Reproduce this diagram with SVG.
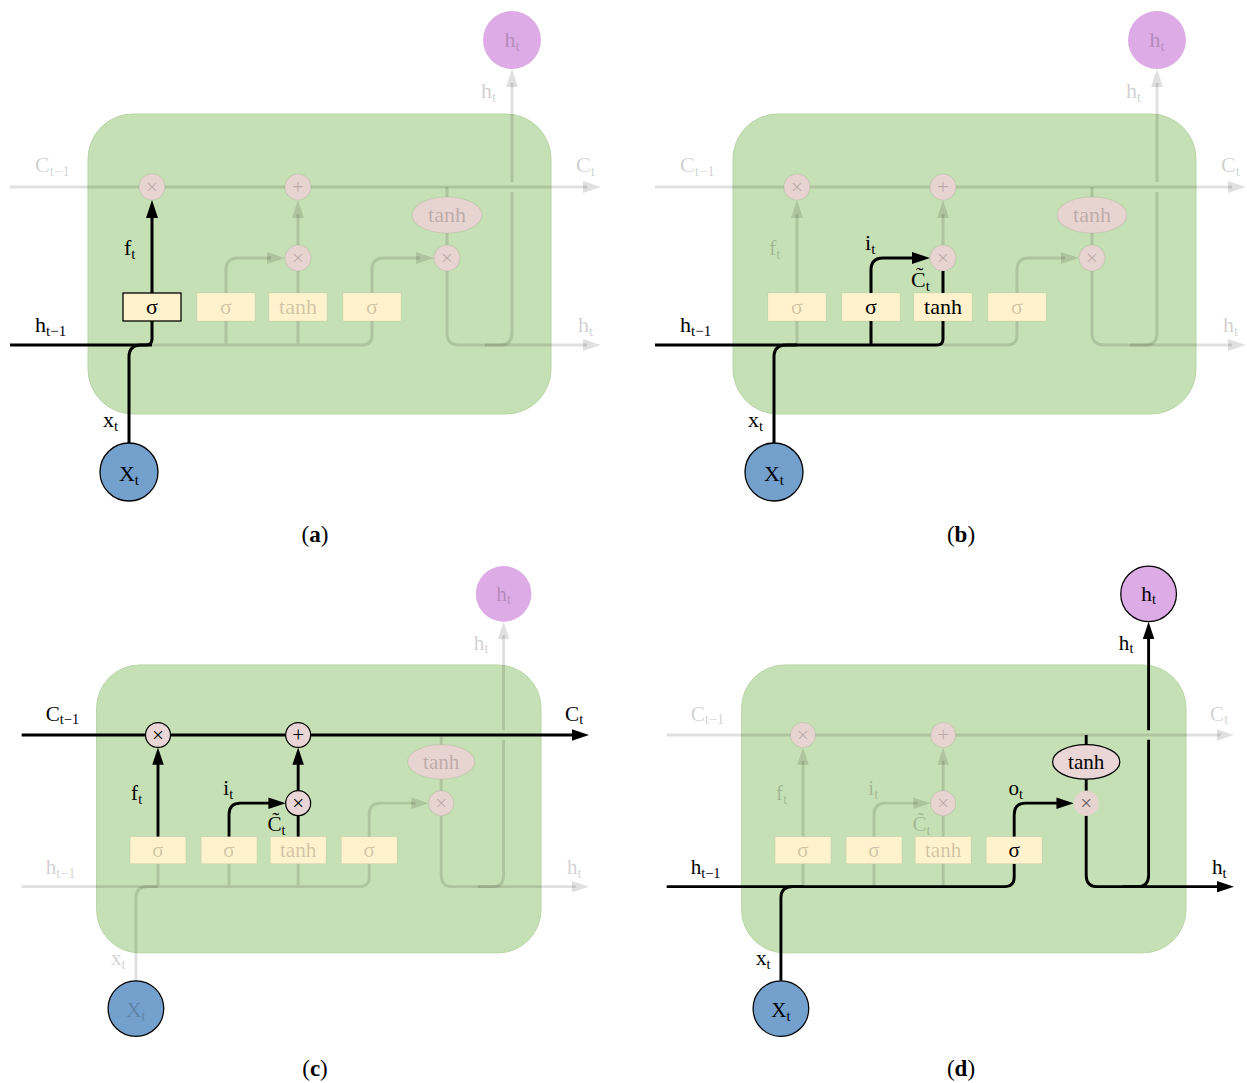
<svg xmlns="http://www.w3.org/2000/svg" width="1247" height="1083" viewBox="0 0 1247 1083">
<style>
.cell{fill:#c5e0b4;stroke:#b8d5a5;stroke-width:1}
.L{fill:none;stroke:#000;stroke-width:3}
.F{fill:none;stroke:#000;stroke-opacity:.12;stroke-width:3}
.op{fill:#ead6d6;stroke:#000;stroke-width:1.3}
.opf{fill:#e7d3d0;stroke:#000;stroke-opacity:.07;stroke-width:1.2}
.opn{fill:#e7d3d0;stroke:none}
.g{fill:#fff2cc;stroke:#000;stroke-opacity:.05;stroke-width:1}
.gs{fill:#fff2cc;stroke:#000;stroke-width:1.3}
.hc{fill:#ddabe6}
.hcs{fill:#ddabe6;stroke:#000;stroke-width:1.3}
.xc{fill:#73a0cd;stroke:#000;stroke-width:1.3}
.t{font-family:"Liberation Serif","Times New Roman",serif;font-size:22px;fill:#000}
.m{text-anchor:middle}
.f{fill-opacity:.2}
.s{font-size:15px}
.cap{font-family:"Liberation Serif","Times New Roman",serif;font-size:23px;fill:#000;text-anchor:middle}
</style>
<defs>
<marker id="ab" markerUnits="userSpaceOnUse" markerWidth="18" markerHeight="12" refX="4" refY="6" orient="auto"><path d="M0,0 L18,6 L0,12 z" fill="#000"/></marker>
<marker id="af" markerUnits="userSpaceOnUse" markerWidth="18" markerHeight="12" refX="4" refY="6" orient="auto"><path d="M0,0 L18,6 L0,12 z" fill="#000" fill-opacity=".12"/></marker>
</defs>

<!-- Panel A -->
<g id="panel-a">
<g id="a-cell"><rect class="cell" x="88" y="114" width="463" height="300" rx="45"/></g>
<g id="a-connectors">
<path class="F" d="M10,187 H587" marker-end="url(#af)"/>
<path class="F" d="M152,345 H362 Q372,345 372,335 V321 M226,345 V321 M298,345 V321"/>
<path class="F" d="M226,293 V270 Q226,258 238,258 H271" marker-end="url(#af)"/>
<path class="F" d="M298,293 V271"/>
<path class="F" d="M298,245 V214" marker-end="url(#af)"/>
<path class="F" d="M447,187 V197 M447,233 V245"/>
<path class="F" d="M372,293 V270 Q372,258 384,258 H420" marker-end="url(#af)"/>
<path class="F" d="M447,271 V333 Q447,345 459,345 H587" marker-end="url(#af)"/>
<path class="F" d="M485,345 H500 Q512,345 512,333 V192 M512,182 V83" marker-end="url(#af)"/>
<path class="L" d="M10,345 H146 Q152,345 152,339 V321"/>
<path class="L" d="M129,443 V357 Q129,345 141,345 H152"/>
<path class="L" d="M152,293 V214" marker-end="url(#ab)"/>
</g>
<g id="a-mulF"><circle class="opf" cx="152" cy="187" r="13"/><text class="t m f" x="152" y="194">×</text></g>
<g id="a-add"><circle class="opf" cx="298" cy="187" r="13"/><text class="t m f" x="298" y="194">+</text></g>
<g id="a-mulI"><circle class="opf" cx="298" cy="258" r="13"/><text class="t m f" x="298" y="265">×</text></g>
<g id="a-tanhC"><ellipse class="opf" cx="447" cy="215" rx="35" ry="18"/><text class="t m f" x="447" y="222">tanh</text></g>
<g id="a-mulO"><circle class="opf" cx="447" cy="258" r="13"/><text class="t m f" x="447" y="265">×</text></g>
<g id="a-sigF"><rect class="gs" x="123" y="293" width="58" height="28"/><text class="t m" x="152" y="314">σ</text></g>
<g id="a-sigI"><rect class="g" x="197" y="293" width="58" height="28"/><text class="t m f" x="226" y="314">σ</text></g>
<g id="a-tanhG"><rect class="g" x="269" y="293" width="58" height="28"/><text class="t m f" x="298" y="314">tanh</text></g>
<g id="a-sigO"><rect class="g" x="343" y="293" width="58" height="28"/><text class="t m f" x="372" y="314">σ</text></g>
<g id="a-ht"><circle class="hc" cx="512" cy="40" r="29"/><text class="t m f" x="512" y="47">h<tspan class="s" dy="4">t</tspan></text></g>
<g id="a-xt"><circle class="xc" cx="129" cy="472" r="29"/><text class="t m" x="129" y="481">X<tspan class="s" dy="4">t</tspan></text></g>
<g id="a-labels">
<text class="t f" x="35" y="172">C<tspan class="s" dy="4">t−1</tspan></text>
<text class="t f" x="576" y="172">C<tspan class="s" dy="4">t</tspan></text>
<text class="t" x="35" y="332">h<tspan class="s" dy="4">t−1</tspan></text>
<text class="t f" x="578" y="332">h<tspan class="s" dy="4">t</tspan></text>
<text class="t f" x="481" y="98">h<tspan class="s" dy="4">t</tspan></text>
<text class="t" x="124" y="255">f<tspan class="s" dy="4">t</tspan></text>
<text class="t" x="103" y="427">x<tspan class="s" dy="4">t</tspan></text>
</g>
</g>

<!-- Panel B -->
<g id="panel-b" transform="translate(645,0)">
<g id="b-cell"><rect class="cell" x="88" y="114" width="463" height="300" rx="45"/></g>
<g id="b-connectors">
<path class="F" d="M10,187 H587" marker-end="url(#af)"/>
<path class="F" d="M152,345 V321 M298,345 H362 Q372,345 372,335 V321"/>
<path class="F" d="M152,293 V214" marker-end="url(#af)"/>
<path class="F" d="M298,245 V214" marker-end="url(#af)"/>
<path class="F" d="M447,187 V197 M447,233 V245"/>
<path class="F" d="M372,293 V270 Q372,258 384,258 H420" marker-end="url(#af)"/>
<path class="F" d="M447,271 V333 Q447,345 459,345 H587" marker-end="url(#af)"/>
<path class="F" d="M485,345 H500 Q512,345 512,333 V192 M512,182 V83" marker-end="url(#af)"/>
<path class="L" d="M10,345 H292 Q298,345 298,339 V321 M226,345 V321"/>
<path class="L" d="M129,443 V357 Q129,345 141,345 H152"/>
<path class="L" d="M226,293 V270 Q226,258 238,258 H271" marker-end="url(#ab)"/>
<path class="L" d="M298,293 V271"/>
</g>
<g id="b-mulF"><circle class="opf" cx="152" cy="187" r="13"/><text class="t m f" x="152" y="194">×</text></g>
<g id="b-add"><circle class="opf" cx="298" cy="187" r="13"/><text class="t m f" x="298" y="194">+</text></g>
<g id="b-mulI"><circle class="opf" cx="298" cy="258" r="13"/><text class="t m f" x="298" y="265">×</text></g>
<g id="b-tanhC"><ellipse class="opf" cx="447" cy="215" rx="35" ry="18"/><text class="t m f" x="447" y="222">tanh</text></g>
<g id="b-mulO"><circle class="opf" cx="447" cy="258" r="13"/><text class="t m f" x="447" y="265">×</text></g>
<g id="b-sigF"><rect class="g" x="123" y="293" width="58" height="28"/><text class="t m f" x="152" y="314">σ</text></g>
<g id="b-sigI"><rect class="g" x="197" y="293" width="58" height="28"/><text class="t m" x="226" y="314">σ</text></g>
<g id="b-tanhG"><rect class="g" x="269" y="293" width="58" height="28"/><text class="t m" x="298" y="314">tanh</text></g>
<g id="b-sigO"><rect class="g" x="343" y="293" width="58" height="28"/><text class="t m f" x="372" y="314">σ</text></g>
<g id="b-ht"><circle class="hc" cx="512" cy="40" r="29"/><text class="t m f" x="512" y="47">h<tspan class="s" dy="4">t</tspan></text></g>
<g id="b-xt"><circle class="xc" cx="129" cy="472" r="29"/><text class="t m" x="129" y="481">X<tspan class="s" dy="4">t</tspan></text></g>
<g id="b-labels">
<text class="t f" x="35" y="172">C<tspan class="s" dy="4">t−1</tspan></text>
<text class="t f" x="576" y="172">C<tspan class="s" dy="4">t</tspan></text>
<text class="t" x="35" y="332">h<tspan class="s" dy="4">t−1</tspan></text>
<text class="t f" x="578" y="332">h<tspan class="s" dy="4">t</tspan></text>
<text class="t f" x="481" y="98">h<tspan class="s" dy="4">t</tspan></text>
<text class="t f" x="124" y="255">f<tspan class="s" dy="4">t</tspan></text>
<text class="t" x="220" y="250">i<tspan class="s" dy="4">t</tspan></text>
<text class="t" x="266" y="287">C̃<tspan class="s" dy="4">t</tspan></text>
<text class="t" x="103" y="427">x<tspan class="s" dy="4">t</tspan></text>
</g>
</g>

<!-- Panel C -->
<g id="panel-c" transform="translate(12.08,555.48) scale(0.96)">
<g id="c-cell"><rect class="cell" x="88" y="114" width="463" height="300" rx="45"/></g>
<g id="c-connectors">
<path class="F" d="M10,345 H362 Q372,345 372,335 V321 M152,345 V321 M226,345 V321 M298,345 V321"/>
<path class="F" d="M129,443 V357 Q129,345 141,345 H152"/>
<path class="F" d="M447,187 V197 M447,233 V245"/>
<path class="F" d="M372,293 V270 Q372,258 384,258 H420" marker-end="url(#af)"/>
<path class="F" d="M447,271 V333 Q447,345 459,345 H587" marker-end="url(#af)"/>
<path class="F" d="M485,345 H500 Q512,345 512,333 V192 M512,182 V83" marker-end="url(#af)"/>
<path class="L" d="M10,187 H587" marker-end="url(#ab)"/>
<path class="L" d="M152,293 V214" marker-end="url(#ab)"/>
<path class="L" d="M226,293 V270 Q226,258 238,258 H271" marker-end="url(#ab)"/>
<path class="L" d="M298,293 V271"/>
<path class="L" d="M298,245 V214" marker-end="url(#ab)"/>
</g>
<g id="c-mulF"><circle class="op" cx="152" cy="187" r="13"/><text class="t m" x="152" y="194">×</text></g>
<g id="c-add"><circle class="op" cx="298" cy="187" r="13"/><text class="t m" x="298" y="194">+</text></g>
<g id="c-mulI"><circle class="op" cx="298" cy="258" r="13"/><text class="t m" x="298" y="265">×</text></g>
<g id="c-tanhC"><ellipse class="opf" cx="447" cy="215" rx="35" ry="18"/><text class="t m f" x="447" y="222">tanh</text></g>
<g id="c-mulO"><circle class="opf" cx="447" cy="258" r="13"/><text class="t m f" x="447" y="265">×</text></g>
<g id="c-sigF"><rect class="g" x="123" y="293" width="58" height="28"/><text class="t m f" x="152" y="314">σ</text></g>
<g id="c-sigI"><rect class="g" x="197" y="293" width="58" height="28"/><text class="t m f" x="226" y="314">σ</text></g>
<g id="c-tanhG"><rect class="g" x="269" y="293" width="58" height="28"/><text class="t m f" x="298" y="314">tanh</text></g>
<g id="c-sigO"><rect class="g" x="343" y="293" width="58" height="28"/><text class="t m f" x="372" y="314">σ</text></g>
<g id="c-ht"><circle class="hc" cx="512" cy="40" r="29"/><text class="t m f" x="512" y="47">h<tspan class="s" dy="4">t</tspan></text></g>
<g id="c-xt"><circle class="xc" cx="129" cy="472" r="29"/><text class="t m f" x="129" y="481">X<tspan class="s" dy="4">t</tspan></text></g>
<g id="c-labels">
<text class="t" x="35" y="172">C<tspan class="s" dy="4">t−1</tspan></text>
<text class="t" x="576" y="172">C<tspan class="s" dy="4">t</tspan></text>
<text class="t f" x="35" y="332">h<tspan class="s" dy="4">t−1</tspan></text>
<text class="t f" x="578" y="332">h<tspan class="s" dy="4">t</tspan></text>
<text class="t f" x="481" y="98">h<tspan class="s" dy="4">t</tspan></text>
<text class="t" x="124" y="255">f<tspan class="s" dy="4">t</tspan></text>
<text class="t" x="220" y="250">i<tspan class="s" dy="4">t</tspan></text>
<text class="t" x="266" y="287">C̃<tspan class="s" dy="4">t</tspan></text>
<text class="t f" x="103" y="427">x<tspan class="s" dy="4">t</tspan></text>
</g>
</g>

<!-- Panel D -->
<g id="panel-d" transform="translate(657.08,555.48) scale(0.96)">
<g id="d-cell"><rect class="cell" x="88" y="114" width="463" height="300" rx="45"/></g>
<g id="d-connectors">
<path class="F" d="M10,187 H587" marker-end="url(#af)"/>
<path class="F" d="M152,345 V321 M226,345 V321 M298,345 V321"/>
<path class="F" d="M152,293 V214" marker-end="url(#af)"/>
<path class="F" d="M226,293 V270 Q226,258 238,258 H271" marker-end="url(#af)"/>
<path class="F" d="M298,293 V271"/>
<path class="F" d="M298,245 V214" marker-end="url(#af)"/>
<path class="L" d="M10,345 H362 Q372,345 372,335 V321"/>
<path class="L" d="M129,443 V357 Q129,345 141,345 H152"/>
<path class="L" d="M447,187 V197 M447,233 V245"/>
<path class="L" d="M372,293 V270 Q372,258 384,258 H420" marker-end="url(#ab)"/>
<path class="L" d="M447,271 V333 Q447,345 459,345 H587" marker-end="url(#ab)"/>
<path class="L" d="M485,345 H500 Q512,345 512,333 V192 M512,182 V83" marker-end="url(#ab)"/>
</g>
<g id="d-mulF"><circle class="opf" cx="152" cy="187" r="13"/><text class="t m f" x="152" y="194">×</text></g>
<g id="d-add"><circle class="opf" cx="298" cy="187" r="13"/><text class="t m f" x="298" y="194">+</text></g>
<g id="d-mulI"><circle class="opf" cx="298" cy="258" r="13"/><text class="t m f" x="298" y="265">×</text></g>
<g id="d-tanhC"><ellipse class="op" cx="447" cy="215" rx="35" ry="18"/><text class="t m" x="447" y="222">tanh</text></g>
<g id="d-mulO"><circle class="opn" cx="447" cy="258" r="13"/><text class="t m" x="447" y="265" fill-opacity=".6">×</text></g>
<g id="d-sigF"><rect class="g" x="123" y="293" width="58" height="28"/><text class="t m f" x="152" y="314">σ</text></g>
<g id="d-sigI"><rect class="g" x="197" y="293" width="58" height="28"/><text class="t m f" x="226" y="314">σ</text></g>
<g id="d-tanhG"><rect class="g" x="269" y="293" width="58" height="28"/><text class="t m f" x="298" y="314">tanh</text></g>
<g id="d-sigO"><rect class="g" x="343" y="293" width="58" height="28"/><text class="t m" x="372" y="314">σ</text></g>
<g id="d-ht"><circle class="hcs" cx="512" cy="40" r="29"/><text class="t m" x="512" y="47">h<tspan class="s" dy="4">t</tspan></text></g>
<g id="d-xt"><circle class="xc" cx="129" cy="472" r="29"/><text class="t m" x="129" y="481">X<tspan class="s" dy="4">t</tspan></text></g>
<g id="d-labels">
<text class="t f" x="35" y="172">C<tspan class="s" dy="4">t−1</tspan></text>
<text class="t f" x="576" y="172">C<tspan class="s" dy="4">t</tspan></text>
<text class="t" x="35" y="332">h<tspan class="s" dy="4">t−1</tspan></text>
<text class="t" x="578" y="332">h<tspan class="s" dy="4">t</tspan></text>
<text class="t" x="481" y="98">h<tspan class="s" dy="4">t</tspan></text>
<text class="t f" x="124" y="255">f<tspan class="s" dy="4">t</tspan></text>
<text class="t f" x="220" y="250">i<tspan class="s" dy="4">t</tspan></text>
<text class="t f" x="266" y="287">C̃<tspan class="s" dy="4">t</tspan></text>
<text class="t" x="366" y="250">o<tspan class="s" dy="4">t</tspan></text>
<text class="t" x="103" y="427">x<tspan class="s" dy="4">t</tspan></text>
</g>
</g>

<g id="captions">
<text class="cap" x="315" y="542">(<tspan font-weight="bold">a</tspan>)</text>
<text class="cap" x="961" y="542">(<tspan font-weight="bold">b</tspan>)</text>
<text class="cap" x="315" y="1076">(<tspan font-weight="bold">c</tspan>)</text>
<text class="cap" x="961" y="1076">(<tspan font-weight="bold">d</tspan>)</text>
</g>
</svg>
